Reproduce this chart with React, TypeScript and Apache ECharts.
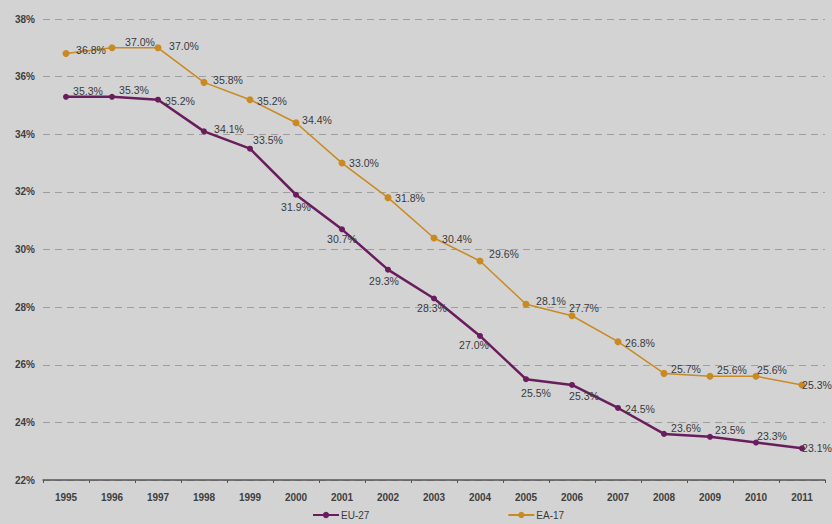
import React, { useEffect, useRef } from "react";
import * as echarts from "echarts";

const years = ["1995","1996","1997","1998","1999","2000","2001","2002","2003","2004","2005","2006","2007","2008","2009","2010","2011"];
const eu27 = [35.3,35.3,35.2,34.1,33.5,31.9,30.7,29.3,28.3,27.0,25.5,25.3,24.5,23.6,23.5,23.3,23.1];
const ea17 = [36.8,37.0,37.0,35.8,35.2,34.4,33.0,31.8,30.4,29.6,28.1,27.7,26.8,25.7,25.6,25.6,25.3];

// label offsets (center of label relative to marker), styling only
const euOffsets: [number, number][] = [[22,-6],[22,-7],[22,1],[25,-2],[18,-9],[0,12],[0,10],[-4,11],[-2,10],[-6,9],[10,14],[12,11],[22,1],[22,-6],[20,-7],[16,-7],[15,0]];
const eaOffsets: [number, number][] = [[25,-4],[28,-6],[26,-2],[24,-2],[22,1],[21,-3],[22,0],[22,0],[23,1],[24,-7],[25,-3],[12,-8],[22,1],[22,-4],[22,-6],[16,-6],[15,0]];

const EU_COLOR = "#6a1d5c";
const EA_COLOR = "#c98a22";
const FONT = "Liberation Sans, Arial, sans-serif";

function build(values: number[], offsets: [number, number][]) {
  return values.map((v, i) => ({
    value: v,
    label: { offset: offsets[i] },
  }));
}

export default function App() {
  const ref = useRef<HTMLDivElement>(null);
  useEffect(() => {
    if (!ref.current) return;
    const chart = echarts.init(ref.current, null, { renderer: "svg" });
    const labelCommon = {
      show: true,
      position: "inside",
      color: "#3a3a3a",
      fontSize: 10.5,
      fontFamily: FONT,
      formatter: (p: any) => Number(p.value).toFixed(1) + "%",
    };
    chart.setOption({
      animation: false,
      backgroundColor: "#d3d3d3",
      textStyle: { fontFamily: FONT },
      grid: { left: 43, right: 7, top: 19, bottom: 44, containLabel: false },
      legend: {
        left: 312,
        top: 510,
        padding: 0,
        itemWidth: 26,
        itemHeight: 8,
        itemGap: 138,
        textStyle: { color: "#3a3a3a", fontSize: 10, fontFamily: FONT, padding: [0, 0, 0, -3] },
        data: ["EU-27", "EA-17"],
      },
      xAxis: {
        type: "category",
        data: years,
        boundaryGap: true,
        axisLine: { lineStyle: { color: "#555555", width: 1.5 } },
        axisTick: { show: true, length: 3, lineStyle: { color: "#555555" } },
        axisLabel: { color: "#404040", fontSize: 10, fontWeight: "bold", margin: 12, fontFamily: FONT },
        splitLine: { show: false },
      },
      yAxis: {
        type: "value",
        min: 22,
        max: 38,
        interval: 2,
        axisLine: { show: false },
        axisTick: { show: false },
        axisLabel: { color: "#404040", fontSize: 10, fontWeight: "bold", margin: 8, formatter: "{value}%", fontFamily: FONT },
        splitLine: { show: true, lineStyle: { color: "#9e9e9e", type: [7, 5], width: 1 } },
      },
      series: [
        {
          name: "EU-27",
          type: "line",
          data: build(eu27, euOffsets),
          symbol: "circle",
          symbolSize: 6,
          itemStyle: { color: EU_COLOR },
          lineStyle: { color: EU_COLOR, width: 2.5 },
          label: labelCommon,
          z: 3,
        },
        {
          name: "EA-17",
          type: "line",
          data: build(ea17, eaOffsets),
          symbol: "circle",
          symbolSize: 7,
          itemStyle: { color: EA_COLOR },
          lineStyle: { color: EA_COLOR, width: 1.5 },
          label: labelCommon,
          z: 2,
        },
      ],
    });
    return () => chart.dispose();
  }, []);
  return (
    <div
      ref={ref}
      style={{ position: "absolute", left: 0, top: 0, width: 832, height: 524 }}
    />
  );
}
